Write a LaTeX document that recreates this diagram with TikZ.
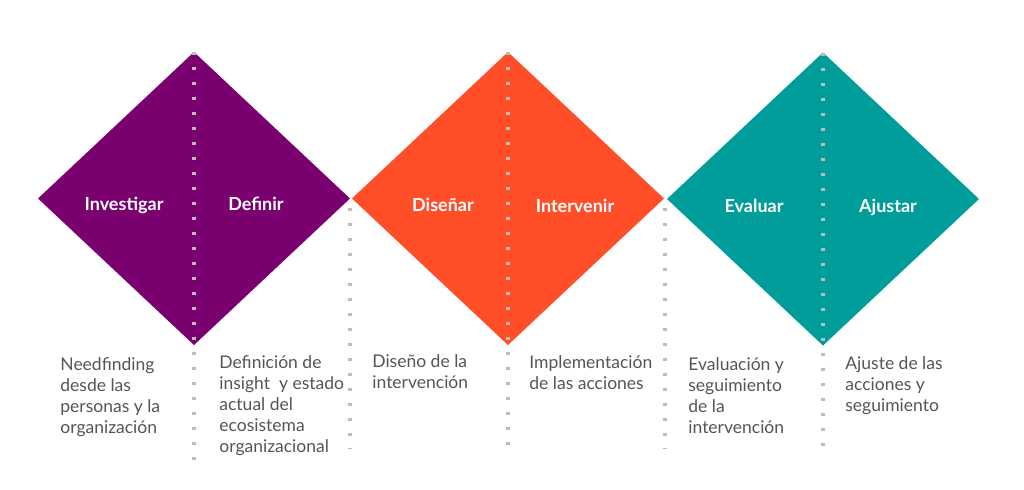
\documentclass[tikz,border=0pt]{standalone}
\usepackage{fontspec}
\setmainfont{Lato}
\definecolor{mypurple}{RGB}{122,0,112}
\definecolor{myorange}{RGB}{255,78,40}
\definecolor{myteal}{RGB}{0,157,154}
\definecolor{mygray}{RGB}{85,85,85}
\definecolor{mydots}{RGB}{188,188,188}
\usetikzlibrary{shapes.geometric,positioning}

\begin{document}
\begin{tikzpicture}[
  x=0.5pt,
  y=-0.5pt,
  phase/.style={
    diamond,
    inner sep=0pt,
    outer sep=0pt,
    minimum width=156pt,
    minimum height=146.5pt
    },
  title/.style={
    anchor=base,
    inner sep=0pt,
    text=white,
    font=\fontsize{9pt}{11pt}\selectfont\bfseries
    },
  desc/.style={
    anchor=north west,
    align=left,
    inner sep=0pt,
    text=mygray,
    font=\fontsize{8.75pt}{10.5pt}\selectfont
    },
  sep/.style={
    draw=mydots,
    line width=1.6pt,
    dash pattern=on 1.6pt off 5.9pt
    }
]
\useasboundingbox (0,0) rectangle (1024,489);

% the three diamonds
\node [phase, fill=mypurple] (p1) at (194,198.5) {};
\node [phase, fill=myorange] (p2) at (508,198.5) {};
\node [phase, fill=myteal] (p3) at (823,199) {};

% dotted separators
\coordinate (t2) at (350,208);
\coordinate (t4) at (665,208);
\coordinate (b1) at (194,460);
\coordinate (b2) at (350,449);
\coordinate (b3) at (508,449);
\coordinate (b4) at (665,449);
\coordinate (b5) at (823,449);
\draw [sep] (p1.north) -- (b1);
\draw [sep] (t2) -- (b2);
\draw [sep] (p2.north) -- (b3);
\draw [sep] (t4) -- (b4);
\draw [sep] (p3.north) -- (b5);

% phase names
\node [title] (investigar) at (124,210) {Investigar};
\node [title] (definir) at (256,210) {Definir};
\node [title] (disenar) at (443,211) {Diseñar};
\node [title] (intervenir) at (575,212.5) {Intervenir};
\node [title] (evaluar) at (754,212.5) {Evaluar};
\node [title] (ajustar) at (888,212.5) {Ajustar};

% descriptions
\node [desc] (n1) at (60,357.5) {Needfinding\\desde las\\personas y la\\organización};
\node [desc] (n2) at (219,355.5) {Definición de\\insight\ \ y estado\\actual del\\ecosistema\\organizacional};
\node [desc] (n3) at (372,354.5) {Diseño de la\\intervención};
\node [desc] (n4) at (529,355.5) {Implementación\\de las acciones};
\node [desc] (n5) at (688,357.5) {Evaluación y\\seguimiento\\de la\\intervención};
\node [desc] (n6) at (845,356.5) {Ajuste de las\\acciones y\\seguimiento};

\end{tikzpicture}
\end{document}
